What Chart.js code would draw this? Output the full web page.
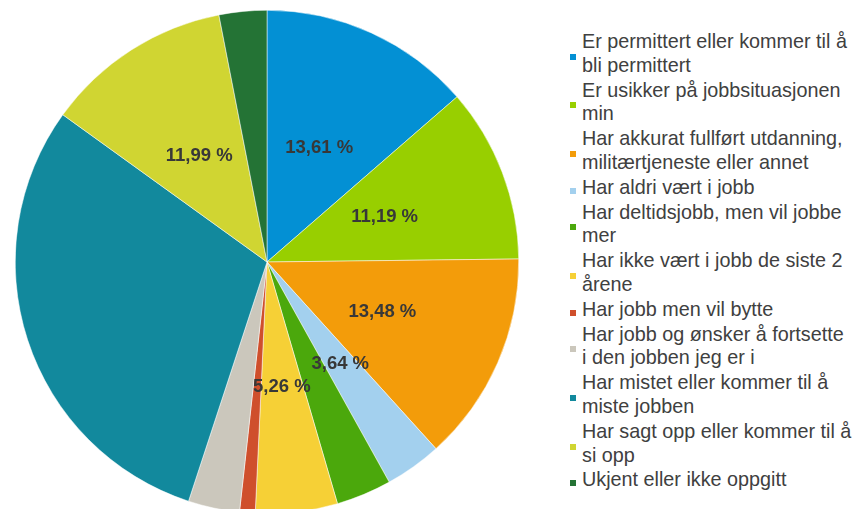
<!DOCTYPE html>
<html>
<head>
<meta charset="utf-8">
<script src="https://cdn.jsdelivr.net/npm/chart.js@4"></script>
<style>
    html, body { margin: 0; padding: 0; background: #fff; overflow: hidden; }
    body { width: 856px; height: 509px; position: relative; font-family: "Liberation Sans", Arial, sans-serif; }
    #chartBox { position: absolute; left: 15px; top: 10px; width: 504px; height: 504px; }
    #legend { position: absolute; left: 570px; top: 30px; width: 286px; }
    .item { display: flex; align-items: center; margin-bottom: 1px; }
    .marker { width: 6px; height: 6px; flex: none; margin-right: 6px; margin-top: 6px; }
    .text { font-size: 19.8px; line-height: 23.8px; color: #404040; width: 271px; }
</style>
</head>
<body>
<div id="chartBox"><canvas id="pieChart"></canvas></div>
<div id="legend"></div>
<script>
    const categories = [
        'Er permittert eller kommer til å bli permittert',
        'Er usikker på jobbsituasjonen min',
        'Har akkurat fullført utdanning, militærtjeneste eller annet',
        'Har aldri vært i jobb',
        'Har deltidsjobb, men vil jobbe mer',
        'Har ikke vært i jobb de siste 2 årene',
        'Har jobb men vil bytte',
        'Har jobb og ønsker å fortsette i den jobben jeg er i',
        'Har mistet eller kommer til å miste jobben',
        'Har sagt opp eller kommer til å si opp',
        'Ukjent eller ikke oppgitt'
    ];
    const shares = [13.61, 11.19, 13.48, 3.64, 3.55, 5.26, 1.0, 3.3, 29.89, 11.99, 3.06];
    const showLabel = [true, true, true, true, false, true, false, false, false, true, false];
    const colors = ['#0390d4', '#98cf00', '#f39c0a', '#a3d0ee', '#4ba80c', '#f6d036', '#cf4f2c',
                    '#cbc7bc', '#12899d', '#d0d532', '#247335'];

    // legend as html so the long names can wrap
    const legend = document.getElementById('legend');
    categories.forEach((name, i) => {
        const item = document.createElement('div');
        item.className = 'item';
        const marker = document.createElement('div');
        marker.className = 'marker';
        marker.style.background = colors[i];
        const text = document.createElement('div');
        text.className = 'text';
        text.textContent = name;
        item.appendChild(marker);
        item.appendChild(text);
        legend.appendChild(item);
    });

    const sliceLabels = {
        id: 'sliceLabels',
        afterDatasetsDraw(chart) {
            const ctx = chart.ctx;
            const meta = chart.getDatasetMeta(0);
            ctx.save();
            ctx.font = 'bold 18.5px "Liberation Sans", Arial, sans-serif';
            ctx.fillStyle = '#383838';
            ctx.textAlign = 'center';
            ctx.textBaseline = 'middle';
            meta.data.forEach((arc, i) => {
                if (!showLabel[i]) return;
                const pos = arc.tooltipPosition();
                ctx.fillText(shares[i].toFixed(2).replace('.', ',') + ' %', pos.x, pos.y);
            });
            ctx.restore();
        }
    };

    new Chart(document.getElementById('pieChart'), {
        type: 'pie',
        data: {
            labels: categories,
            datasets: [{
                data: shares,
                backgroundColor: colors,
                borderColor: '#ffffff',
                borderWidth: 0.5
            }]
        },
        options: {
            responsive: true,
            maintainAspectRatio: false,
            animation: false,
            layout: { padding: 0 },
            plugins: {
                legend: { display: false },
                tooltip: { enabled: false }
            }
        },
        plugins: [sliceLabels]
    });
</script>
</body>
</html>
